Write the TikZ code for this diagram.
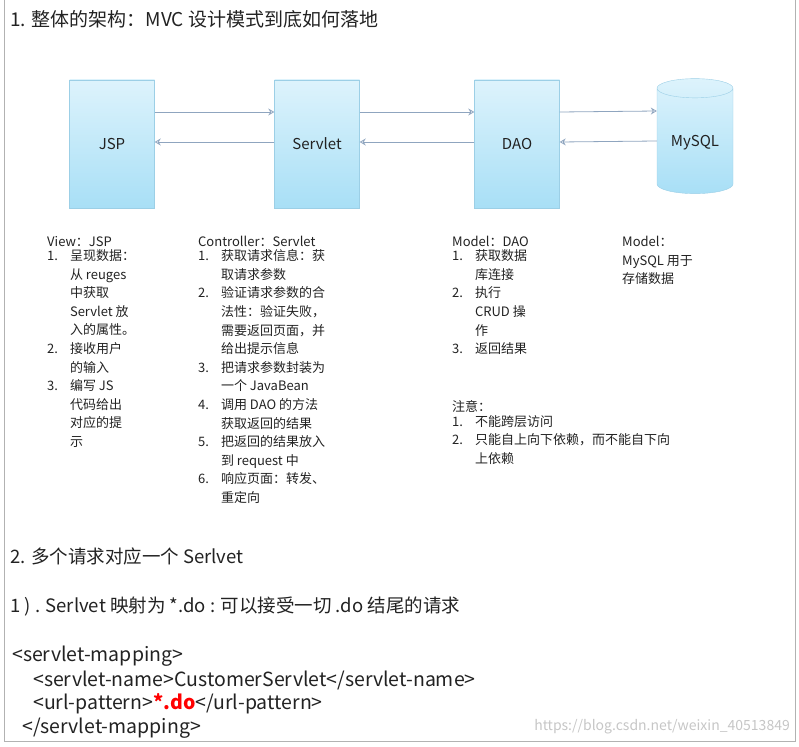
\documentclass[tikz,border=0pt]{standalone}
\usepackage{fontspec}
\setmainfont{Noto Sans CJK SC}
\usetikzlibrary{shapes.geometric, arrows.meta}
\definecolor{boxtop}{HTML}{DDF3FC}
\definecolor{boxbot}{HTML}{A8DFF6}
\definecolor{boxline}{HTML}{9CCFE6}
\definecolor{flowc}{HTML}{8FA5BF}
\definecolor{txt}{HTML}{222222}

\begin{document}
\begin{tikzpicture}[x=1pt,y=-1pt,
  layer/.style={rectangle,draw=boxline,top color=boxtop,bottom color=boxbot,
    minimum width=85pt,minimum height=128pt,font=\fontsize{15}{17}\selectfont,text=txt},
  db/.style={cylinder,shape border rotate=90,aspect=0.35,draw=boxline,
    top color=boxtop,bottom color=boxbot,minimum width=76pt,minimum height=115pt,
    font=\fontsize{15}{17}\selectfont,text=txt},
  flow/.style={->,>={Stealth[open,length=6pt,width=7pt]},draw=flowc,thick},
  col/.style={anchor=north west,inner sep=0pt,align=left,text=txt,
    font=\fontsize{13}{18.6}\selectfont},
  big/.style={anchor=west,inner sep=0pt,text=txt,font=\fontsize{18.5}{20}\selectfont}]
  \useasboundingbox (0,0) rectangle (799,746);
  \draw[gray!60] (4,0) -- (4,741) -- (795,741) -- (795,0);

  % title
  \node[big,font=\fontsize{19}{21}\selectfont] (title) at (10,19) {1. 整体的架构：MVC 设计模式到底如何落地};

  % layers
  \node[layer] (JSP) at (112,144) {JSP};
  \node[layer] (Servlet) at (317,144) {Servlet};
  \node[layer] (DAO) at (517,144) {DAO};
  \node[db] (MySQL) at (695,143) {MySQL};

  \foreach \a/\b in {JSP/Servlet, Servlet/DAO, DAO/MySQL} {
    \draw[flow] ([yshift=32pt]\a.east) -- ([yshift=32pt]\b.west);
    \draw[flow] ([yshift=2pt]\b.west) -- ([yshift=2pt]\a.east);
  }

  % notes
  \node[col] (view) at (47,236) {View：JSP\\
    \begin{tabular}{@{}l@{\hspace{12pt}}l@{}}
    1. & 呈现数据：\\ & 从 reuges\\ & 中获取\\ & Servlet 放\\ & 入的属性。\\
    2. & 接收用户\\ & 的输入\\
    3. & 编写 JS\\ & 代码给出\\ & 对应的提\\ & 示
    \end{tabular}};
  \node[col] (ctrl) at (198,236) {Controller：Servlet\\
    \begin{tabular}{@{}l@{\hspace{12pt}}l@{}}
    1. & 获取请求信息：获\\ & 取请求参数\\
    2. & 验证请求参数的合\\ & 法性：验证失败，\\ & 需要返回页面，并\\ & 给出提示信息\\
    3. & 把请求参数封装为\\ & 一个 JavaBean\\
    4. & 调用 DAO 的方法\\ & 获取返回的结果\\
    5. & 把返回的结果放入\\ & 到 request 中\\
    6. & 响应页面：转发、\\ & 重定向
    \end{tabular}};
  \node[col] (model) at (452,236) {Model：DAO\\
    \begin{tabular}{@{}l@{\hspace{12pt}}l@{}}
    1. & 获取数据\\ & 库连接\\
    2. & 执行\\ & CRUD 操\\ & 作\\
    3. & 返回结果
    \end{tabular}};
  \node[col] (store) at (622,236) {Model：\\MySQL 用于\\存储数据};
  \node[col] (note) at (452,400) {注意：\\
    \begin{tabular}{@{}l@{\hspace{12pt}}l@{}}
    1. & 不能跨层访问\\
    2. & 只能自上向下依赖，而不能自下向\\ & 上依赖
    \end{tabular}};

  % part 2
  \node[big] (sec) at (10,556) {2. 多个请求对应一个 Serlvet};
  \node[big] (map) at (10,606) {1 ) . Serlvet 映射为 *.do : 可以接受一切 .do 结尾的请求};
  \node[big,font=\fontsize{19.5}{21}\selectfont] (c1) at (12,656) {<servlet-mapping>};
  \node[big,font=\fontsize{19.5}{21}\selectfont] (c2) at (33,680) {<servlet-name>CustomerServlet</servlet-name>};
  \node[big,font=\fontsize{19.5}{21}\selectfont] (c3) at (33,704) {<url-pattern>\textcolor{red}{\bfseries *.do}</url-pattern>};
  \node[big,font=\fontsize{19.5}{21}\selectfont] (c4) at (22,728) {</servlet-mapping>};
  \node[anchor=east,inner sep=0pt,text=gray!45,font=\fontsize{14}{15}\selectfont] (mark) at (790,727) {https://blog.csdn.net/weixin\_40513849};
\end{tikzpicture}
\end{document}
